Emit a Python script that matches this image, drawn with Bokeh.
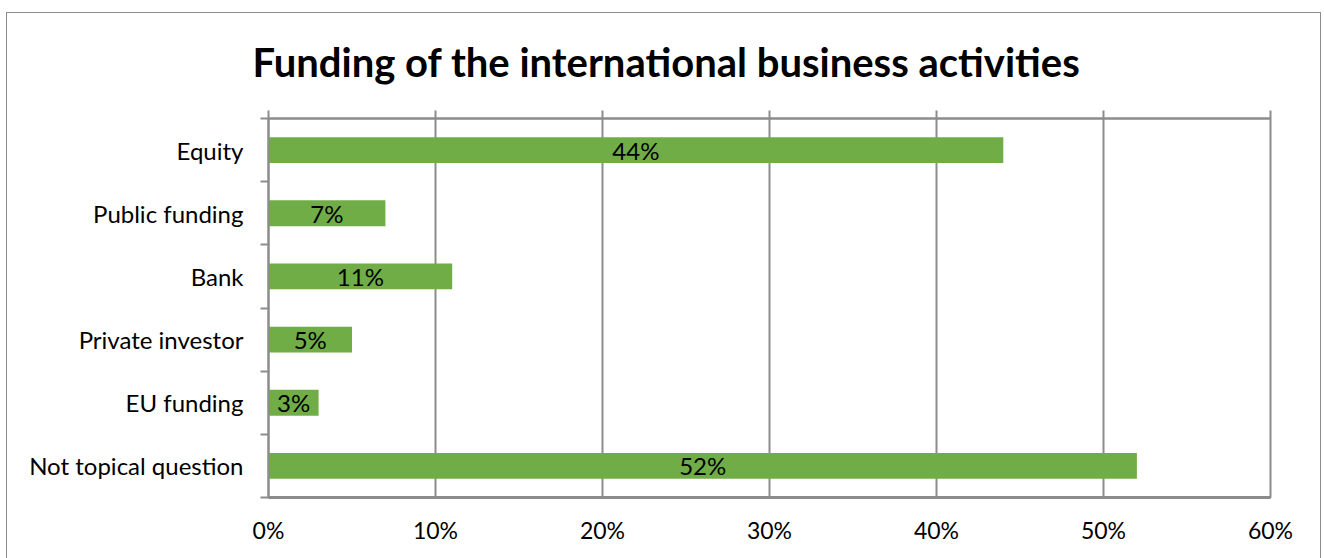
from bokeh.plotting import figure
from bokeh.models import ColumnDataSource, FixedTicker, LinearAxis, Range1d
from bokeh.core.properties import value
from bokeh.embed import file_html
from bokeh.resources import INLINE

title = "Funding of the international business activities"
categories = ["Equity", "Public funding", "Bank", "Private investor",
              "EU funding", "Not topical question"]
values = [44, 7, 11, 5, 3, 52]
x_ticks = [0, 10, 20, 30, 40, 50, 60]
x_tick_labels = ["0%", "10%", "20%", "30%", "40%", "50%", "60%"]

FONT = "Lato"
GRID = "#8c8c8c"
n = len(categories)
ypos = [n - 0.5 - i for i in range(n)]

src = ColumnDataSource(dict(
    y=ypos, v=values, mid=[v / 2 for v in values],
    lab=[f"{v}%" for v in values]))

p = figure(width=1315, height=550, output_backend="svg", toolbar_location=None,
           x_range=Range1d(0, 60), y_range=Range1d(0, n),
           min_border_left=261, min_border_right=52, min_border_top=105,
           min_border_bottom=66, x_axis_location=None, y_axis_location=None)
p.styles = {"margin-left": "6px", "margin-top": "12px",
            "border": "1px solid #8c8c8c"}
p.background_fill_color = "white"
p.border_fill_color = "white"
p.outline_line_color = GRID
p.outline_line_width = 2

p.hbar(y="y", right="v", left=0, height=0.41, source=src,
       fill_color="#70AD47", line_color=None)
p.text(x="mid", y="y", text="lab", source=src, text_align="center",
       text_baseline="middle", text_font=value(FONT), text_font_size="24px",
       text_color="black")

# bottom axis with labels
xb = LinearAxis(ticker=FixedTicker(ticks=x_ticks),
                major_label_overrides={t: l for t, l in zip(x_ticks, x_tick_labels)})
xb.major_tick_out = 0
xb.major_tick_in = 0
xb.minor_tick_out = 0
xb.axis_line_color = GRID
xb.axis_line_width = 3
xb.major_label_text_font = FONT
xb.major_label_text_font_size = "23px"
xb.major_label_text_color = "black"
xb.major_label_standoff = 18
p.add_layout(xb, "below")

# top axis (tick marks only)
xt = LinearAxis(ticker=FixedTicker(ticks=x_ticks),
                major_label_overrides={t: "" for t in x_ticks})
xt.major_tick_out = 8
xt.major_tick_in = 0
xt.major_tick_line_color = GRID
xt.major_tick_line_width = 2
xt.axis_line_color = GRID
xt.axis_line_width = 2
xt.major_label_text_font_size = "1px"
xt.major_label_standoff = 0
p.add_layout(xt, "above")

# left axis: labels at centres, ticks at boundaries
yl = LinearAxis(ticker=FixedTicker(ticks=ypos, minor_ticks=list(range(n + 1))),
                major_label_overrides={y: c for y, c in zip(ypos, categories)})
yl.major_tick_out = 0
yl.major_tick_in = 0
yl.minor_tick_out = 8
yl.minor_tick_in = 0
yl.minor_tick_line_color = GRID
yl.minor_tick_line_width = 2
yl.axis_line_color = GRID
yl.axis_line_width = 2
yl.major_label_text_font = FONT
yl.major_label_text_font_size = "24px"
yl.major_label_text_color = "black"
yl.major_label_standoff = 17
p.add_layout(yl, "left")

p.xgrid.ticker = FixedTicker(ticks=x_ticks)
p.xgrid.grid_line_color = GRID
p.xgrid.grid_line_width = 2
p.ygrid.grid_line_color = None

p.title.text = title
p.title.align = "left"
p.title.vertical_align = "top"
p.title.text_font = FONT
p.title.text_font_size = "40px"
p.title.text_font_style = "bold"
p.title.text_color = "black"
p.title.standoff = 46
p.title.offset = -16

open("out.html", "w").write(file_html(p, INLINE))
